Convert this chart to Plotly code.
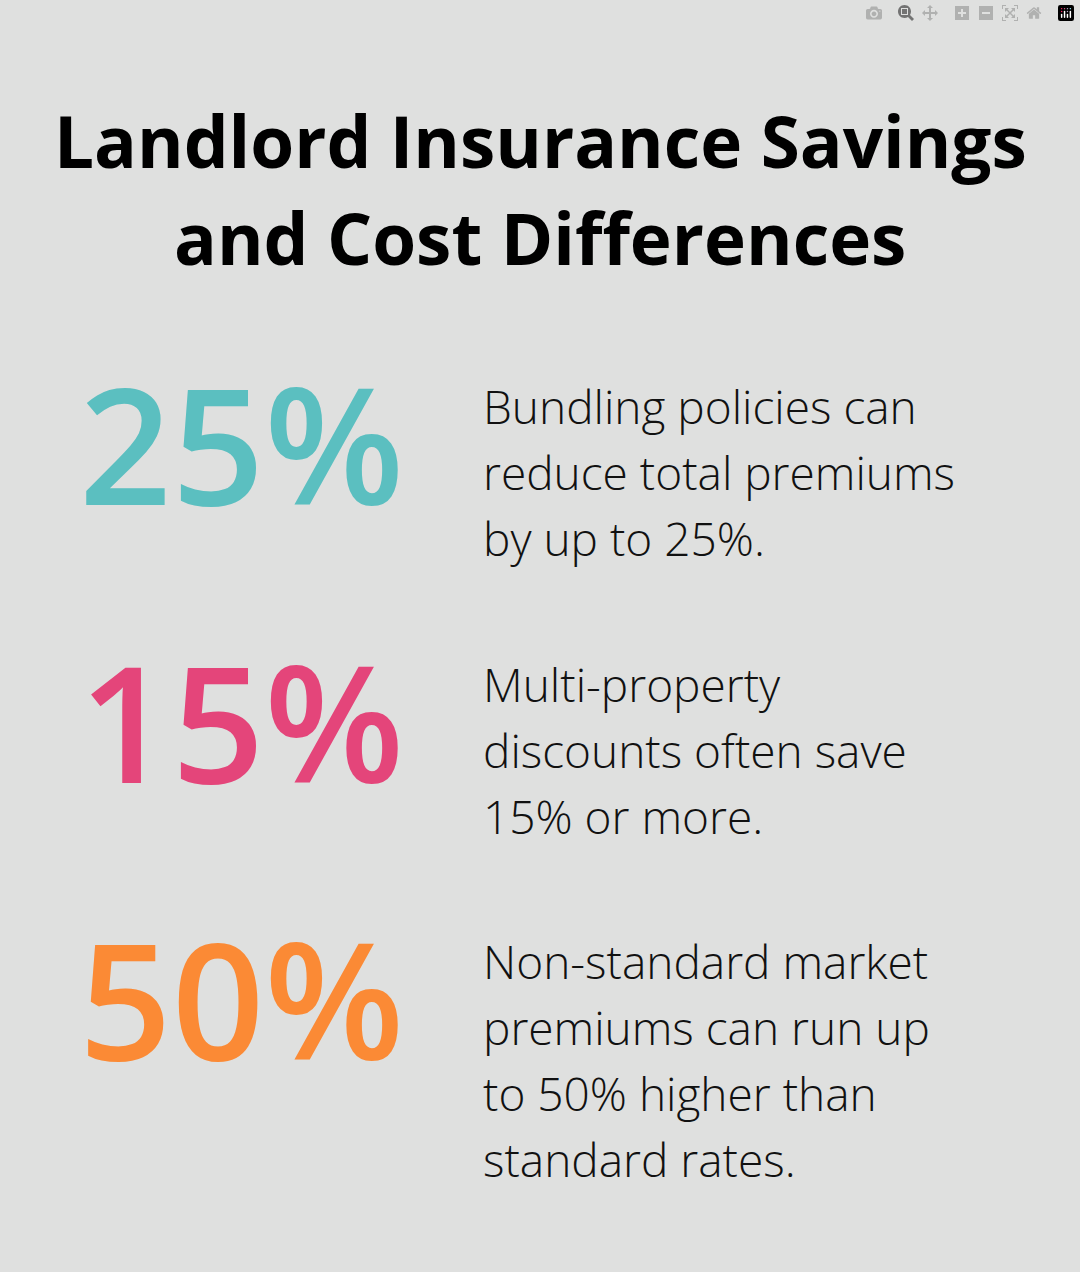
import plotly.graph_objects as go

title_lines = ["Landlord Insurance Savings", "and Cost Differences"]
stats = ["25%", "15%", "50%"]
stat_colors = ["#5bbfc0", "#e4457a", "#fb8a35"]
descriptions = [
    ["Bundling policies can", "reduce total premiums", "by up to 25%."],
    ["Multi-property", "discounts often save", "15% or more."],
    ["Non-standard market", "premiums can run up", "to 50% higher than", "standard rates."],
]

W, H = 1080, 1272
fig = go.Figure()
anns = []

def yp(px):
    return 1 - px / H

for i, line in enumerate(title_lines):
    anns.append(dict(x=0.5, y=yp(140 + i * 97), text="<b>" + line + "</b>",
                     xanchor="center", yanchor="middle", showarrow=False,
                     font=dict(family="Open Sans", size=71, color="#000000")))

block_top = [408, 686, 963]
for i, s in enumerate(stats):
    anns.append(dict(x=241 / W, y=yp(block_top[i] + 34), text=s,
                     xanchor="center", yanchor="middle", showarrow=False,
                     font=dict(family="Open Sans", size=162, weight=600,
                               color=stat_colors[i])))
    for j, line in enumerate(descriptions[i]):
        anns.append(dict(x=481 / W, y=yp(block_top[i] - 2 + j * 66), text=line,
                         xanchor="left", yanchor="middle", showarrow=False,
                         font=dict(family="Open Sans", size=46, weight=300,
                                   color="#111111")))

fig.update_layout(width=W, height=H, margin=dict(l=0, r=0, t=0, b=0),
                  paper_bgcolor="#dfe0df", plot_bgcolor="#dfe0df",
                  xaxis=dict(visible=False, range=[0, 1]),
                  yaxis=dict(visible=False, range=[0, 1]),
                  annotations=anns)
fig.write_html("out.html", post_script="document.body.style.margin='0';")
